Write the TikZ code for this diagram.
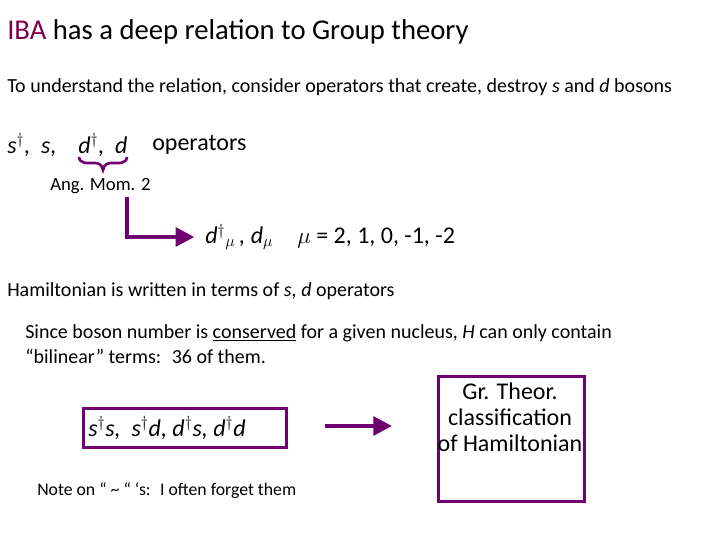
\documentclass[tikz,border=0pt]{standalone}
\usepackage{fontspec}
\setmainfont{Carlito}
\usetikzlibrary{arrows.meta}
\begin{document}
\begin{tikzpicture}[x=0.75pt,y=-0.75pt,
  txt/.style={anchor=west,inner sep=0pt},
  pline/.style={draw=pur,line width=3pt},
  pbox/.style={draw=pur,line width=2.4pt,inner sep=0pt},
  ahead/.style={-{Triangle[length=14pt,width=14pt]}}]
\definecolor{pur}{RGB}{112,0,112}
\definecolor{iba}{RGB}{128,0,80}
\useasboundingbox (0,0) rectangle (720,540);
\node[txt,font=\fontsize{21.5}{24}\selectfont] (t) at (7,32) {\textcolor{iba}{IBA} has a deep relation to Group theory};
\node[txt,font=\fontsize{15}{18}\selectfont] (l2) at (7,87) {To understand the relation, consider operators that create, destroy \textit{s} and \textit{d} bosons};
\node[txt,font=\fontsize{18}{21}\selectfont] (s) at (7,145) {\textit{s}$^\dagger$\textit{, \ s,}};
\node[txt,font=\fontsize{18}{21}\selectfont] (d) at (78,145) {\textit{d}$^\dagger$\textit{, \ d}};
\node[txt,font=\fontsize{18}{21}\selectfont] (op) at (152,145) {operators};
\draw[pur,line width=2pt] (79,157) .. controls (80,164) and (86,163) .. (95,163) .. controls (99,163) and (102,165) .. (103,170)
  .. controls (104,165) and (107,163) .. (111,163) .. controls (120,163) and (126,164) .. (127,157);
\node[txt,font=\fontsize{14}{17}\selectfont] (am) at (50,186) {Ang. Mom. 2};
\node[txt,font=\fontsize{18}{21}\selectfont] (dm) at (205,237) {\textit{d}$^{\dagger}{}_{\mu}$\,\textit{, d}$_{\mu}$\quad$\mu$ = 2, 1, 0, -1, -2};
\draw[pline,ahead] (127,197) -- (127,237) -- ([xshift=-8pt]dm.west);
\node[txt,font=\fontsize{15}{18}\selectfont] (h) at (7,291) {Hamiltonian is written in terms of \textit{s, d} operators};
\node[txt,font=\fontsize{15}{18}\selectfont] (b1) at (25,333) {Since boson number is \underline{conserved} for a given nucleus, \textit{H} can only contain};
\node[txt,font=\fontsize{15}{18}\selectfont] (b2) at (25,356) {“bilinear” terms: \ 36 of them.};
\node[pbox,minimum width=203*0.75pt,minimum height=39*0.75pt,anchor=north west] (bx) at (82,407) {};
\node[txt,font=\fontsize{18}{21}\selectfont\itshape] (bt) at (88,428) {s$^\dagger$s, \ s$^\dagger$d, d$^\dagger$s, d$^\dagger$d};
\node[pbox,minimum width=146*0.75pt,minimum height=125*0.75pt,anchor=north west] (gr) at (437,375) {};
\node[font=\fontsize{18}{19.5}\selectfont,align=center,anchor=north] (gt) at (510,378) {Gr. Theor.\\classification\\of Hamiltonian};
\coordinate (a1) at (325,426);
\coordinate (a2) at (392,426);
\draw[pline,ahead] (a1) -- (a2);
\node[txt,font=\fontsize{13.3}{16}\selectfont] (n) at (37,491) {Note on “ \textasciitilde\ “ ‘s: \ I often forget them};
\end{tikzpicture}
\end{document}
